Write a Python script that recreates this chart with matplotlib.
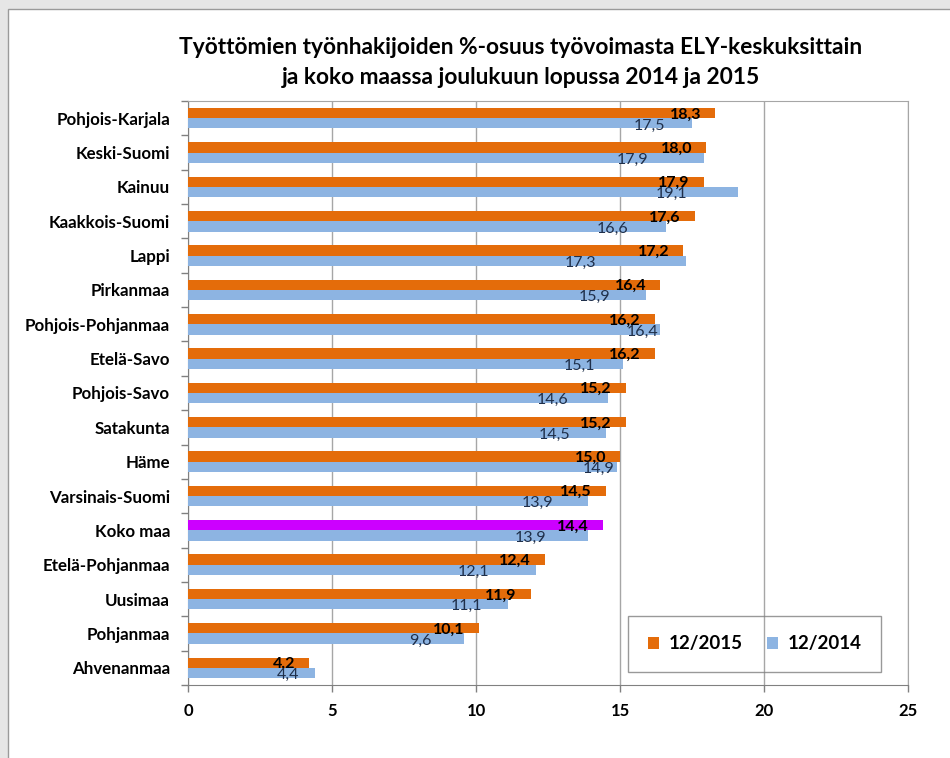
import numpy as np
import matplotlib
matplotlib.use("Agg")
import matplotlib.pyplot as plt
from matplotlib.patches import Rectangle

plt.rcParams['font.family'] = ['Lato', 'DejaVu Sans']

# data, top to bottom as in the chart
regions = ["Pohjois-Karjala", "Keski-Suomi", "Kainuu", "Kaakkois-Suomi", "Lappi",
           "Pirkanmaa", "Pohjois-Pohjanmaa", "Etelä-Savo", "Pohjois-Savo", "Satakunta",
           "Häme", "Varsinais-Suomi", "Koko maa", "Etelä-Pohjanmaa", "Uusimaa",
           "Pohjanmaa", "Ahvenanmaa"]
dec_2015 = [18.3, 18.0, 17.9, 17.6, 17.2, 16.4, 16.2, 16.2, 15.2, 15.2,
            15.0, 14.5, 14.4, 12.4, 11.9, 10.1, 4.2]
dec_2014 = [17.5, 17.9, 19.1, 16.6, 17.3, 15.9, 16.4, 15.1, 14.6, 14.5,
            14.9, 13.9, 13.9, 12.1, 11.1, 9.6, 4.4]

# the 2014 labels were nudged by hand in the original (gap from bar end, px)
label_gap_2014 = [27, 55, 51, 38, 90, 36, 2, 28, 40, 35, 3, 35, 42, 47, 25, 33, 15]

ORANGE = "#e46c0a"
BLUE = "#8db4e2"
MAGENTA = "#cc00ff"
GRID = "#a6a6a6"

fig = plt.figure(figsize=(9.5, 7.58), dpi=100)
fig.patch.set_facecolor("#e6e6e6")
# white chart panel with thin border, behind the axes
panel = Rectangle((8 / 950, -0.01), 1.0, 1 - 9 / 758 + 0.01,
                  transform=fig.transFigure, facecolor="white",
                  edgecolor="#9a9a9a", linewidth=1.0, zorder=-10)
fig.add_artist(panel)

ax = fig.add_axes([188 / 950, 1 - 685 / 758, 720 / 950, 584 / 758])
ax.set_zorder(1)
ax.patch.set_facecolor("white")

n = len(regions)
y = np.arange(n)
h = 0.30
colors_2015 = [MAGENTA if r == "Koko maa" else ORANGE for r in regions]

ax.barh(y - h / 2, dec_2015, height=h, color=colors_2015, label="12/2015", zorder=3)
ax.barh(y + h / 2, dec_2014, height=h, color=BLUE, label="12/2014", zorder=3)

for i in range(n):
    ax.annotate(f"{dec_2015[i]:.1f}".replace(".", ","), (dec_2015[i], y[i] - h / 2),
                xytext=(-14 * 0.72, -1), textcoords="offset points",
                ha="right", va="center", fontsize=11.5, fontweight="bold",
                color="black", zorder=4)
    ax.annotate(f"{dec_2014[i]:.1f}".replace(".", ","), (dec_2014[i], y[i] + h / 2),
                xytext=(-label_gap_2014[i] * 0.72, -1.5), textcoords="offset points",
                ha="right", va="center", fontsize=11.5,
                color="#1f2f4a", zorder=4)

ax.set_xlim(0, 25)
ax.set_ylim(n - 0.5, -0.5)
ax.set_xticks(np.arange(0, 26, 5))
ax.set_xticklabels([str(v) for v in range(0, 26, 5)], fontsize=12, fontweight="bold")
ax.set_yticks(y)
ax.set_yticklabels(regions, fontsize=12.2, fontweight="bold")
ax.set_yticks(np.arange(-0.5, n, 1), minor=True)
ax.tick_params(axis="y", which="major", length=0, pad=13)
ax.tick_params(axis="y", which="minor", length=5, color="#808080", width=1)
ax.tick_params(axis="x", length=5, color="#808080", width=1, pad=8)

ax.grid(axis="x", color=GRID, linewidth=1, zorder=0)
ax.set_axisbelow(True)
for side in ["top", "right"]:
    ax.spines[side].set_color(GRID)
for side in ["left", "bottom"]:
    ax.spines[side].set_color("#808080")

# two-line title
fig.text(0.548, 1 - 47 / 758,
         "Työttömien työnhakijoiden %-osuus työvoimasta ELY-keskuksittain",
         ha="center", va="center", fontsize=16.4, fontweight="bold")
fig.text(0.548, 1 - 77 / 758,
         "ja koko maassa joulukuun lopussa 2014 ja 2015",
         ha="center", va="center", fontsize=16.4, fontweight="bold")

leg = ax.legend(loc="lower left", ncol=2, frameon=True, fancybox=False,
                prop={"weight": "bold", "size": 13.5}, handlelength=0.6, handleheight=0.6,
                columnspacing=1.3, handletextpad=0.5, borderpad=1.05, borderaxespad=0)
leg.get_frame().set_facecolor("none")
leg.get_frame().set_edgecolor("#808080")
leg.set_bbox_to_anchor(((628 - 188) / 720, (685 - 672) / 584), transform=ax.transAxes)

fig.savefig("out.png", dpi=100)
